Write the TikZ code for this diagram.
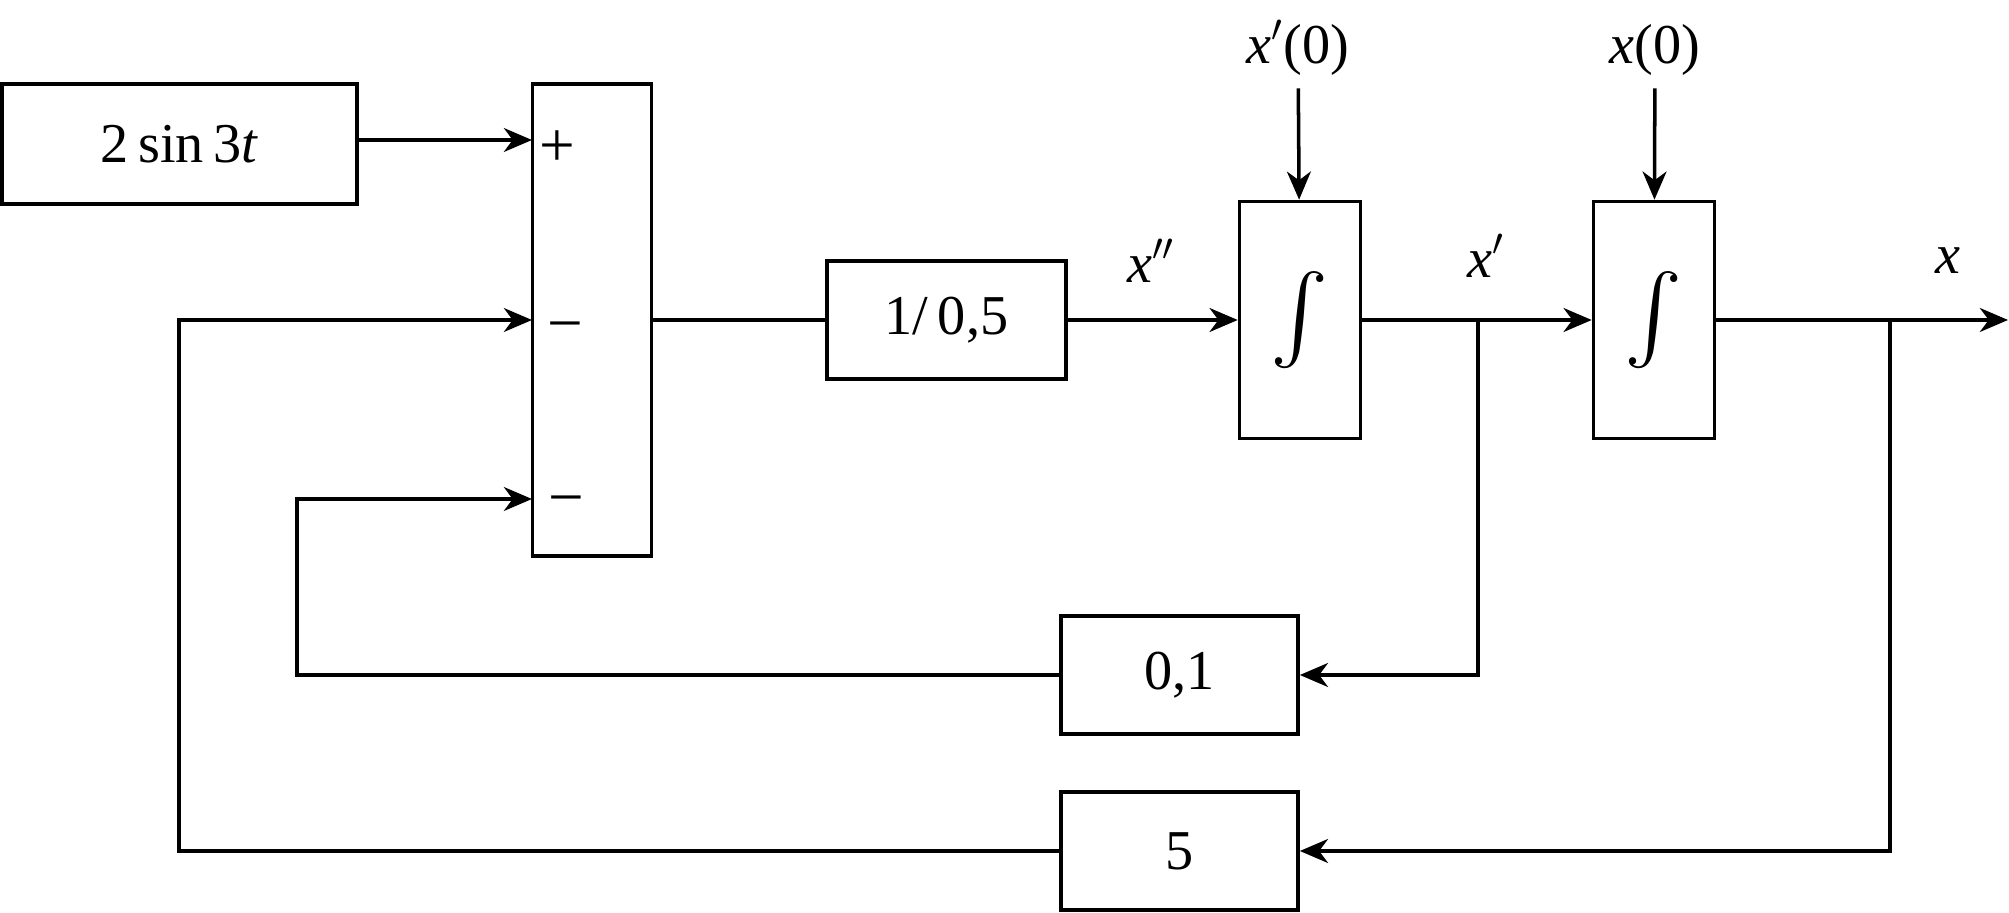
\documentclass[tikz,border=0pt]{standalone}
\usepackage{exscale}
\usepackage{fontspec}
\setmainfont{Liberation Serif}
\usetikzlibrary{arrows.meta}

\begin{document}
\begin{tikzpicture}
[-,line width=1pt,x=0.01cm,y=-0.01cm,%
  >={Stealth[length=8pt,width=6.8pt,inset=2.5pt]},%
  every node/.style={inner sep=0pt,font=\fontsize{16}{19}\selectfont},%
  blk/.style={draw,minimum width=2.37cm,minimum height=1.18cm},%
  intg/.style={draw,minimum width=1.21cm,minimum height=2.37cm,font=\fontsize{24}{28}\selectfont},%
  sign/.style={font=\fontsize{18}{21}\selectfont}]
\useasboundingbox (0,0) rectangle (2009,913);
% forward path
\node[draw,minimum width=3.55cm,minimum height=1.2cm] (sin) at (179.5,144) {2\,sin\,3\textit{t}};
\node[draw,minimum width=1.19cm,minimum height=4.72cm] (sum) at (592,320) {};
\node[blk,minimum width=2.39cm] (gain) at (946.5,320) {1/\,0,5};
\node[intg] (int1) at (1300,320) {$\int$};
\node[intg] (int2) at (1654,320) {$\int$};
% feedback gains
\node[blk] (k1) at (1179.5,675) {0,1};
\node[blk] (k5) at (1179.5,851) {5};
% inputs of the summer
\coordinate (in1) at (532,140);
\coordinate (in2) at (532,320);
\coordinate (in3) at (532,499);
\node[sign] at (557,149) {+};
\node[sign] at (565,333) {−};
\node[sign] at (566,507) {−};
% signal labels
\node[anchor=base] (xpp) at (1151,283) {\textit{x}$''$};
\node[anchor=base] (xp) at (1486,278) {\textit{x}$'$};
\node[anchor=base] (xo) at (1948,274) {\textit{x}};
\node[anchor=base] (ic1) at (1298,64) {\textit{x}$'$(0)};
\node[anchor=base] (ic2) at (1655,64) {\textit{x}(0)};
% branch points
\coordinate (b1) at (1478,320);
\coordinate (b2) at (1890,320);
\coordinate (out) at (2008,320);
\coordinate (c1) at (297,675);
\coordinate (c5) at (179,851);
% connectors
\draw[->] (sin.east |- in1) -- (in1);
\draw (sum.east) -- (gain.west);
\draw[->] (gain) -- (int1);
\draw[->] (int1) -- (int2);
\draw[->] (int2) -- (out);
\draw[->,shorten <=3pt] (ic1) -- (int1);
\draw[->,shorten <=3pt] (ic2) -- (int2);
\draw[->] (b1) |- (k1.east);
\draw[->] (b2) |- (k5.east);
\draw[->] (k1.west) -- (c1) |- (in3);
\draw[->] (k5.west) -- (c5) |- (in2);
\end{tikzpicture}
\end{document}
